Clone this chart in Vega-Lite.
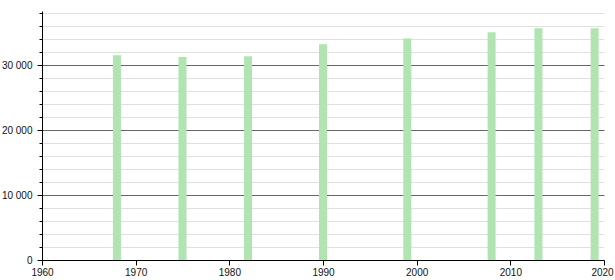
{
  "$schema": "https://vega.github.io/schema/vega-lite/v6.json",
  "autosize": "none",
  "width": 562,
  "height": 249,
  "padding": {"left": 42, "top": 11, "right": 11, "bottom": 20},
  "background": "white",
  "data": {"values": [
    {"year": 1968, "pop": 31540},
    {"year": 1975, "pop": 31280},
    {"year": 1982, "pop": 31390},
    {"year": 1990, "pop": 33230},
    {"year": 1999, "pop": 34100},
    {"year": 2008, "pop": 35080},
    {"year": 2013, "pop": 35690},
    {"year": 2019, "pop": 35690}
  ]},
  "mark": {"type": "bar", "width": 8, "color": "#b0e4b0"},
  "encoding": {
    "x": {
      "field": "year", "type": "quantitative",
      "scale": {"domain": [1960, 2020], "nice": false, "zero": false, "padding": 0},
      "axis": {
        "title": null, "grid": false, "values": [1960, 1970, 1980, 1990, 2000, 2010, 2020],
        "format": "d", "domainColor": "#000", "tickColor": "#000", "tickSize": 5,
        "labelColor": "#111", "labelFont": "Liberation Sans", "labelFontSize": 10,
        "labelPadding": 2, "labelFlush": false,
        "labelOffset": {"condition": {"test": "datum.value === 2020", "value": -2}, "value": 0}
      }
    },
    "y": {
      "field": "pop", "type": "quantitative",
      "scale": {"domain": [0, 38350], "nice": false},
      "axis": {
        "title": null,
        "values": [0, 2000, 4000, 6000, 8000, 10000, 12000, 14000, 16000, 18000, 20000, 22000, 24000, 26000, 28000, 30000, 32000, 34000, 36000, 38000],
        "labelExpr": "datum.value % 10000 === 0 ? replace(format(datum.value, ','), ',', ' ') : ''",
        "grid": true,
        "gridColor": {"condition": {"test": "datum.value % 10000 === 0", "value": "#666666"}, "value": "#e0e0e0"},
        "gridWidth": 1,
        "domainColor": "#000", "tickColor": "#000",
        "tickSize": {"condition": {"test": "datum.value % 10000 === 0", "value": 5}, "value": 3},
        "labelColor": "#111", "labelFont": "Liberation Sans", "labelFontSize": 10,
        "labelPadding": 5
      }
    }
  },
  "config": {"view": {"stroke": null}}
}
